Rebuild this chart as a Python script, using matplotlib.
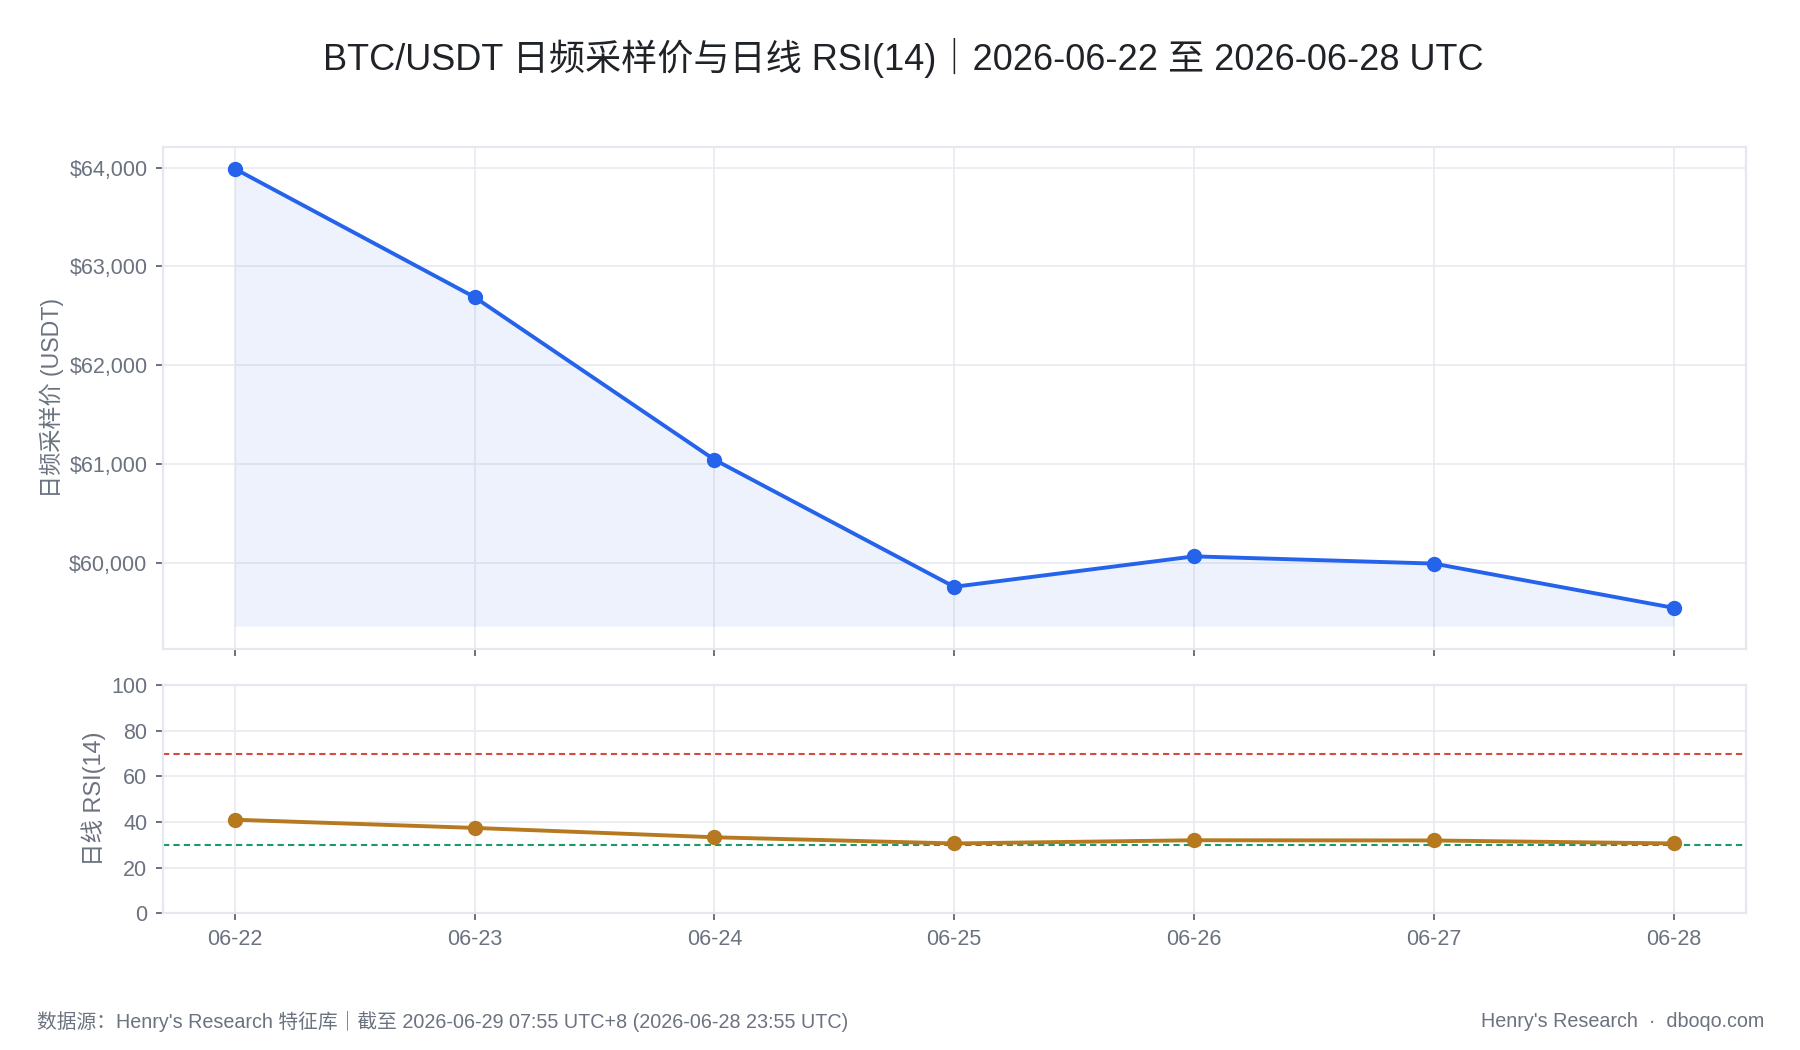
import numpy as np
import matplotlib
matplotlib.use('Agg')
import matplotlib.pyplot as plt
from matplotlib.ticker import FuncFormatter

plt.rcParams['font.family'] = ['Liberation Sans', 'Noto Sans CJK SC', 'DejaVu Sans']

dates = ['06-22', '06-23', '06-24', '06-25', '06-26', '06-27', '06-28']
price = np.array([63990, 62690, 61045, 59758, 60066, 59993, 59545])
rsi = np.array([41.0, 37.4, 33.3, 30.6, 32.0, 31.9, 30.6])
rsi_upper = 70
rsi_lower = 30

blue = '#2563eb'
orange = '#b7791f'
grid_c = '#e8eaf0'
text_c = '#6b7280'

x = np.arange(len(dates))

fig = plt.figure(figsize=(18, 10.5), dpi=100)
ax1 = fig.add_axes([0.0904, 0.3822, 0.8794, 0.4781])
ax2 = fig.add_axes([0.0904, 0.1302, 0.8794, 0.2174])

# price panel
rng = price.max() - price.min()
base = price.min() - 0.042 * rng
ax1.fill_between(x, price, base, color=blue, alpha=0.08, lw=0)
ax1.plot(x, price, '-o', color=blue, lw=2.8, ms=10, zorder=3)
ax1.set_ylim(price.min() - 0.093 * rng, price.max() + 0.05 * rng)
ax1.set_yticks([60000, 61000, 62000, 63000, 64000])
ax1.yaxis.set_major_formatter(FuncFormatter(lambda v, p: '${:,.0f}'.format(v)))
ax1.set_ylabel('日频采样价 (USDT)', color=text_c, fontsize=16.7, labelpad=3.5)
ax1.set_xticks(x)
ax1.set_xticklabels([])

# rsi panel
ax2.axhline(rsi_upper, color='#d9483f', lw=1.5, ls=(0, (3, 2)), zorder=2)
ax2.axhline(rsi_lower, color='#1a9a6c', lw=1.5, ls=(0, (3, 2)), zorder=2)
ax2.plot(x, rsi, '-o', color=orange, lw=2.8, ms=10, zorder=3)
ax2.set_ylim(0, 100)
ax2.set_yticks([0, 20, 40, 60, 80, 100])
ax2.set_ylabel('日线 RSI(14)', color=text_c, fontsize=16.9, labelpad=3.5)
ax2.set_xticks(x)
ax2.set_xticklabels(dates)

for ax in (ax1, ax2):
    ax.set_xlim(-0.3, len(dates) - 1 + 0.3)
    ax.grid(True, color=grid_c, lw=1.2)
    ax.set_axisbelow(True)
    for s in ax.spines.values():
        s.set_color('#e5e8ee')
        s.set_linewidth(1.6)
    ax.tick_params(colors='#5f6672', labelcolor=text_c, labelsize=15.5,
                   length=5, width=1.3, pad=6)

fig.text(0.502, 0.945, 'BTC/USDT 日频采样价与日线 RSI(14)｜2026-06-22 至 2026-06-28 UTC',
         ha='center', va='center', fontsize=26, color='#1f2328')
fig.text(0.0205, 0.027, '数据源：Henry\'s Research 特征库｜截至 2026-06-29 07:55 UTC+8 (2026-06-28 23:55 UTC)',
         ha='left', va='center', fontsize=14.2, color=text_c)
fig.text(0.980, 0.027, 'Henry\'s Research  ·  dboqo.com',
         ha='right', va='center', fontsize=14.2, color=text_c)

fig.savefig('out.png', dpi=100, facecolor='white')
